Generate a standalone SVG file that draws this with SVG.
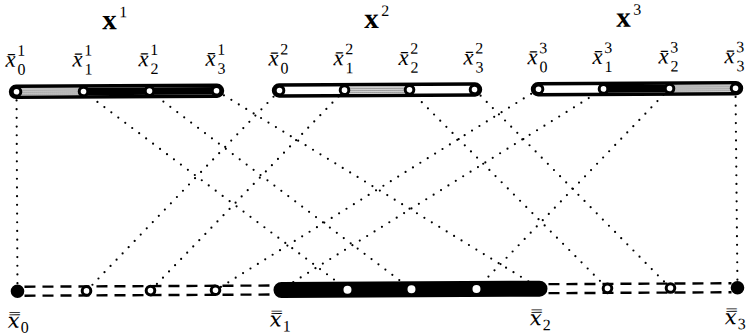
<svg xmlns="http://www.w3.org/2000/svg" width="749" height="335" viewBox="0 0 749 335">
<style>
.lbl{font-family:"Liberation Serif","DejaVu Serif",serif;font-style:italic;font-size:23px;fill:#000}
.lbl2{font-family:"DejaVu Serif",serif;font-style:italic;font-size:21px;fill:#000}
.dig{font-family:"Liberation Serif","DejaVu Serif",serif;font-size:16px;fill:#000}
.bold{font-family:"Liberation Serif","DejaVu Serif",serif;font-weight:bold;font-size:29px;fill:#000}
.conn{stroke:#000;stroke-width:2.2;stroke-linecap:round;stroke-dasharray:0 8.7;fill:none}
.bar{fill:#fff;stroke:#000;stroke-width:3.4}
.node{fill:#fff;stroke:#000;stroke-width:3}
.dash{stroke:#000;stroke-width:2.4;stroke-dasharray:11 7;fill:none}
.blk{fill:#000}
.gry{fill:url(#stip)}
</style>
<defs>
<pattern id="stip" width="2" height="2" patternUnits="userSpaceOnUse">
<rect width="2" height="2" fill="#d2d2d2"/>
<rect width="1" height="1" fill="#6a6a6a"/>
</pattern>
</defs>
<g transform="rotate(-0.28 377 190)">
<g id="titles">
<text class="bold" x="103" y="28">x</text><text class="dig" x="120" y="16">1</text>
<text class="bold" x="365" y="28">x</text><text class="dig" x="382" y="16">2</text>
<text class="bold" x="617" y="28">x</text><text class="dig" x="634" y="16">3</text>
</g>
<g id="connectors">
<line class="conn" x1="17" y1="90" x2="17" y2="289.5"/>
<line class="conn" x1="84" y1="90" x2="347" y2="289.5"/>
<line class="conn" x1="150" y1="90" x2="411" y2="289.5"/>
<line class="conn" x1="217" y1="90" x2="540" y2="289.5"/>
<line class="conn" x1="280" y1="90" x2="86" y2="289.5"/>
<line class="conn" x1="345" y1="90" x2="150" y2="289.5"/>
<line class="conn" x1="410" y1="90" x2="607" y2="289.5"/>
<line class="conn" x1="475" y1="90" x2="670" y2="289.5"/>
<line class="conn" x1="539" y1="90" x2="215" y2="289.5"/>
<line class="conn" x1="604" y1="90" x2="280" y2="289.5"/>
<line class="conn" x1="670" y1="90" x2="476" y2="289.5"/>
<line class="conn" x1="736" y1="90" x2="737" y2="289.5"/>
</g>
<g id="bar1">
<rect class="bar" x="11" y="84.5" width="212" height="11" rx="5.5"/>
<rect class="gry" x="17" y="86.5" width="67" height="7"/>
<rect class="blk" x="84" y="86.2" width="133" height="7.6"/>
</g>
<g id="bar2">
<rect class="bar" x="274" y="84.5" width="207" height="11" rx="5.5"/>
<rect class="gry" x="345" y="86.5" width="65" height="7"/>
</g>
<g id="bar3">
<rect class="bar" x="533" y="84.5" width="209" height="11" rx="5.5"/>
<rect class="blk" x="604" y="86.2" width="66" height="7.6"/>
<rect class="gry" x="670" y="86.5" width="66" height="7"/>
</g>
<g id="x1_0"><circle class="node" cx="17" cy="90" r="4.3"/><text class="lbl" x="6" y="65">x̄</text><text class="dig" x="18" y="54">1</text><text class="dig" x="18" y="73">0</text></g>
<g id="x1_1"><circle class="node" cx="84" cy="90" r="4.3"/><text class="lbl" x="73" y="65">x̄</text><text class="dig" x="85" y="54">1</text><text class="dig" x="85" y="73">1</text></g>
<g id="x1_2"><circle class="node" cx="150" cy="90" r="4.3"/><text class="lbl" x="139" y="65">x̄</text><text class="dig" x="151" y="54">1</text><text class="dig" x="151" y="73">2</text></g>
<g id="x1_3"><circle class="node" cx="217" cy="90" r="4.3"/><text class="lbl" x="206" y="65">x̄</text><text class="dig" x="218" y="54">1</text><text class="dig" x="218" y="73">3</text></g>
<g id="x2_0"><circle class="node" cx="280" cy="90" r="4.3"/><text class="lbl" x="269" y="65">x̄</text><text class="dig" x="281" y="54">2</text><text class="dig" x="281" y="73">0</text></g>
<g id="x2_1"><circle class="node" cx="345" cy="90" r="4.3"/><text class="lbl" x="334" y="65">x̄</text><text class="dig" x="346" y="54">2</text><text class="dig" x="346" y="73">1</text></g>
<g id="x2_2"><circle class="node" cx="410" cy="90" r="4.3"/><text class="lbl" x="399" y="65">x̄</text><text class="dig" x="411" y="54">2</text><text class="dig" x="411" y="73">2</text></g>
<g id="x2_3"><circle class="node" cx="475" cy="90" r="4.3"/><text class="lbl" x="464" y="65">x̄</text><text class="dig" x="476" y="54">2</text><text class="dig" x="476" y="73">3</text></g>
<g id="x3_0"><circle class="node" cx="539" cy="90" r="4.3"/><text class="lbl" x="528" y="65">x̄</text><text class="dig" x="540" y="54">3</text><text class="dig" x="540" y="73">0</text></g>
<g id="x3_1"><circle class="node" cx="604" cy="90" r="4.3"/><text class="lbl" x="593" y="65">x̄</text><text class="dig" x="605" y="54">3</text><text class="dig" x="605" y="73">1</text></g>
<g id="x3_2"><circle class="node" cx="670" cy="90" r="4.3"/><text class="lbl" x="659" y="65">x̄</text><text class="dig" x="671" y="54">3</text><text class="dig" x="671" y="73">2</text></g>
<g id="x3_3"><circle class="node" cx="736" cy="90" r="4.3"/><text class="lbl" x="725" y="65">x̄</text><text class="dig" x="737" y="54">3</text><text class="dig" x="737" y="73">3</text></g>
<g id="bottom_line">
<line class="dash" x1="24" y1="285" x2="274" y2="285"/>
<line class="dash" x1="24" y1="294" x2="274" y2="294"/>
<line class="dash" x1="548" y1="285" x2="731" y2="285"/>
<line class="dash" x1="548" y1="294" x2="731" y2="294"/>
<rect class="blk" x="273" y="281.5" width="274" height="16" rx="8"/>
</g>
<g id="b1"><circle class="node" cx="86" cy="289.5" r="4.3"/></g>
<g id="b2"><circle class="node" cx="150" cy="289.5" r="4.3"/></g>
<g id="b3"><circle class="node" cx="215" cy="289.5" r="4.3"/></g>
<g id="b5"><circle cx="347" cy="289.5" r="4" fill="#fff"/></g>
<g id="b6"><circle cx="411" cy="289.5" r="4" fill="#fff"/></g>
<g id="b7"><circle cx="476" cy="289.5" r="4" fill="#fff"/></g>
<g id="b9"><circle class="node" cx="607" cy="289.5" r="4.3"/></g>
<g id="b10"><circle class="node" cx="670" cy="289.5" r="4.3"/></g>
<g id="xx0"><circle class="blk" cx="17" cy="289.5" r="6.8"/><text class="lbl2" x="7" y="326">x̿</text><text class="dig" x="20" y="331">0</text></g>
<g id="xx1"><text class="lbl2" x="269" y="326">x̿</text><text class="dig" x="282" y="331">1</text></g>
<g id="xx2"><text class="lbl2" x="529" y="326">x̿</text><text class="dig" x="542" y="331">2</text></g>
<g id="xx3"><circle class="blk" cx="737" cy="289.5" r="6.8"/><text class="lbl2" x="724" y="326">x̿</text><text class="dig" x="737" y="331">3</text></g>
</g>
</svg>
